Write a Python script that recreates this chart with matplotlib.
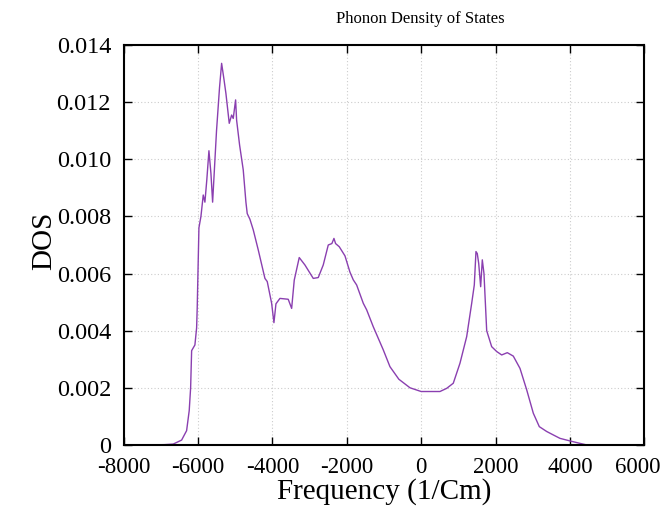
import matplotlib
matplotlib.use("Agg")
import matplotlib.pyplot as plt
from matplotlib.transforms import ScaledTranslation

freq = [-7500, -7290, -6900, -6664, -6438, -6304, -6234, -6196, -6169, -6081, -6035, -6019,
        -5973, -5919, -5857, -5812, -5760, -5704, -5650, -5605, -5500, -5420, -5363, -5300,
        -5247, -5158, -5094, -5051, -4987, -4960, -4880, -4782, -4710, -4675, -4602, -4513,
        -4379, -4199, -4137, -4019, -3957, -3903, -3796, -3573, -3481, -3411, -3277, -3124,
        -2900, -2766, -2632, -2497, -2400, -2344, -2300, -2202, -2048, -1914, -1825, -1734,
        -1556, -1465, -1288, -1019, -839, -600, -300, 0, 237, 505, 685, 863, 1043, 1223,
        1358, 1428, 1473, 1508, 1546, 1599, 1643, 1688, 1761, 1895, 2030, 2164, 2315,
        2476, 2656, 2836, 3014, 3175, 3374, 3551, 3731, 4000, 4250, 4449, 4700]
dos = [0.0, 0.0, 0.00001, 0.00003, 0.00017, 0.0005, 0.0012, 0.0020, 0.0033, 0.0035, 0.0041, 0.0048,
       0.0076, 0.0080, 0.00875, 0.0085, 0.0093, 0.0103, 0.0095, 0.0085, 0.0110, 0.0125, 0.01336, 0.0128,
       0.0123, 0.01126, 0.01155, 0.01143, 0.01208, 0.01137, 0.0105, 0.00963, 0.0085, 0.0081, 0.0079, 0.00753,
       0.00683, 0.00583, 0.00572, 0.00496, 0.00428, 0.00494, 0.00513, 0.0051, 0.00478, 0.00577, 0.00656, 0.0063,
       0.00583, 0.00586, 0.0063, 0.0070, 0.00705, 0.00723, 0.00705, 0.00694, 0.00662, 0.00605, 0.00578, 0.00560,
       0.00496, 0.00473, 0.00414, 0.00333, 0.00274, 0.00230, 0.00200, 0.00187, 0.00187, 0.00187, 0.00198, 0.00216, 0.00286, 0.00379,
       0.00496, 0.0056, 0.00677, 0.0067, 0.00636, 0.00554, 0.00648, 0.0060, 0.0040, 0.00344, 0.00327, 0.00315, 0.00323,
       0.00311, 0.00268, 0.00193, 0.00111, 0.00064, 0.00047, 0.00035, 0.00023, 0.00014, 0.00006, 0.0, 0.0]

xticks = [-8000, -6000, -4000, -2000, 0, 2000, 4000, 6000]
xtick_labels = ["-8000", "-6000", "-4000", "-2000", "0", "2000", "4000", "6000"]
yticks = [0, 0.002, 0.004, 0.006, 0.008, 0.010, 0.012, 0.014]
ytick_labels = ["0", "0.002", "0.004", "0.006", "0.008", "0.010", "0.012", "0.014"]

plt.rcParams['font.family'] = ['Liberation Serif', 'DejaVu Serif']

fig = plt.figure(figsize=(6.64, 5.12), dpi=100)
ax = fig.add_axes([0.186, 0.131, 0.7845, 0.781])
ax.plot(freq, dos, color='#8a3fb0', linewidth=1.0)
ax.set_xlim(-8000, 6000)
ax.set_ylim(0, 0.014)
ax.set_xticks(xticks)
ax.set_xticklabels(xtick_labels)
ax.set_yticks(yticks)
ax.set_yticklabels(ytick_labels)
ax.tick_params(direction='in', length=6, width=1, top=True, right=True, colors='black')
ax.tick_params(axis='x', labelsize=16.5, pad=9)
ax.tick_params(axis='y', labelsize=17.5, pad=9)
ax.grid(True, color='#cccccc', linestyle=(0, (1, 2)), linewidth=0.8)
for s in ax.spines.values():
    s.set_linewidth(1.5)
    s.set_color('black')
ax.set_xlabel('Frequency (1/Cm)', fontsize=21)
ax.xaxis.set_label_coords(0.5, -0.083)
ax.set_ylabel('DOS', fontsize=21)
ax.yaxis.set_label_coords(-0.128, 0.51)
fig.canvas.draw()
last = ax.get_xticklabels()[-1]
last.set_transform(last.get_transform() + ScaledTranslation(-5 / 72, 0, fig.dpi_scale_trans))
fig.text(0.633, 0.962, 'Phonon Density of States', ha='center', va='center', fontsize=12)
fig.savefig('out.png', dpi=100)
